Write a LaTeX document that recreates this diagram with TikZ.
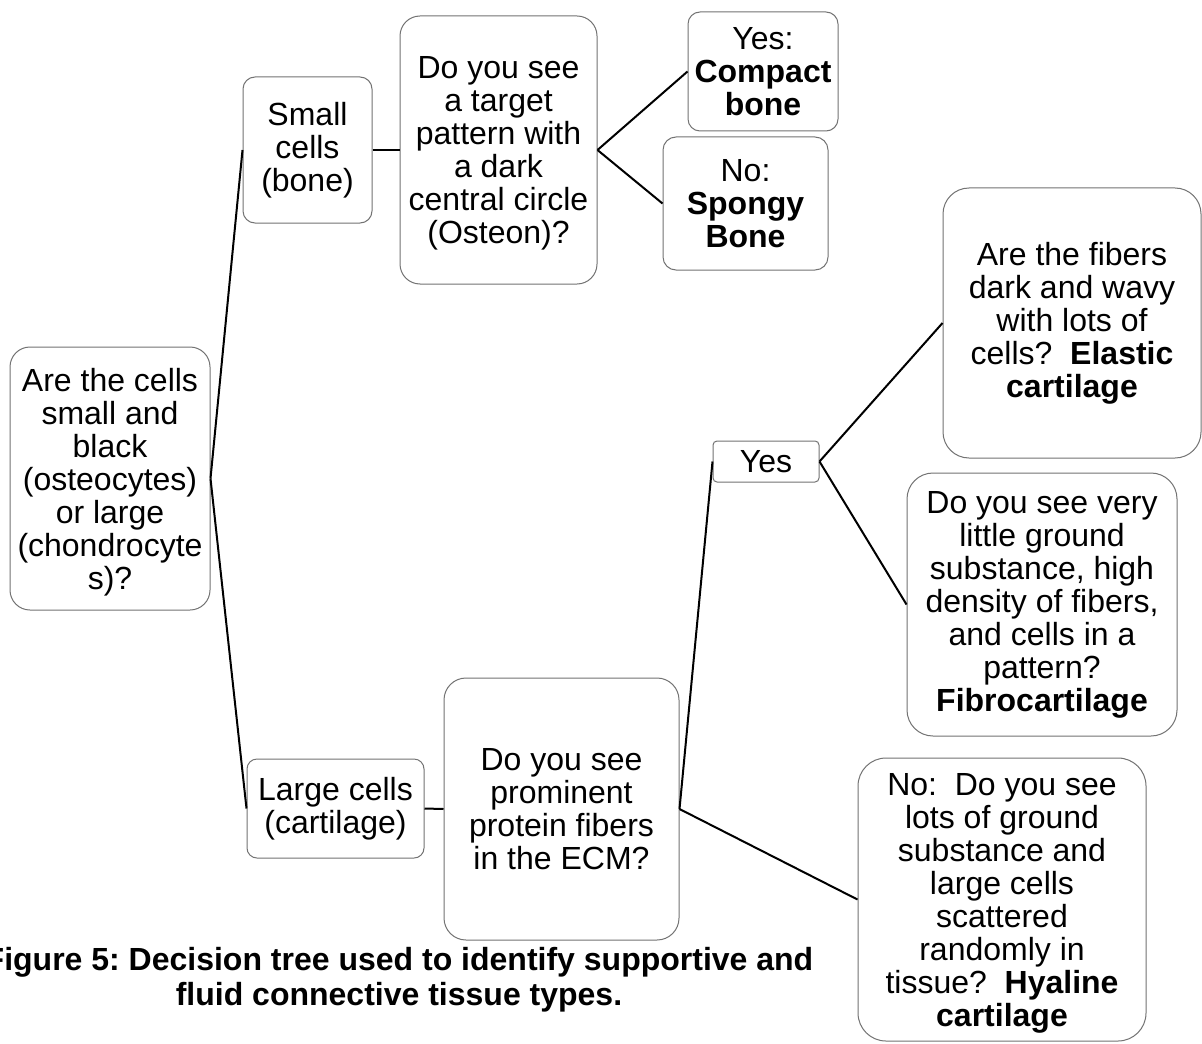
\documentclass[tikz,border=0pt]{standalone}
\usepackage{fontspec}
\setmainfont{Liberation Sans}
\frenchspacing

\tikzset{
	card/.style={draw=black!55, line width=0.5pt, align=center, inner sep=0pt, font=\fontsize{16}{16.5}\selectfont},
	sink/.style={text depth=#1},
	twig/.style={line width=1pt, color=black},
}

\begin{document}
\begin{tikzpicture}[x=0.5pt, y=-0.5pt]
			%%%%% START %%%%%
			
			\useasboundingbox[fill=white] (0, 0) rectangle (1202, 1043);
			
			\node[card, sink=0pt, minimum width=100pt, minimum height=131.5pt, rounded corners=10pt] (cells) at (110, 478.5) {Are the cells\\small and\\black\\(osteocytes)\\or large\\(chondrocyte\\s)?};
			
			\node[card, minimum width=64.5pt, minimum height=73pt, rounded corners=6pt] (small) at (307.5, 150) {Small\\cells\\(bone)};
			\node[card, sink=-1.6pt, minimum width=98.5pt, minimum height=134pt, rounded corners=10pt] (osteon) at (498.5, 150) {Do you see\\a target\\pattern with\\a dark\\central circle\\(Osteon)?};
			\node[card, minimum width=75pt, minimum height=59.5pt, rounded corners=6pt] (compact) at (763, 71.5) {Yes:\\\textbf{Compact}\\\textbf{bone}};
			\node[card, minimum width=82.5pt, minimum height=66.5pt, rounded corners=6.5pt] (spongy) at (745.5, 203.5) {No:\\\textbf{Spongy}\\\textbf{Bone}};
			
			\node[card, minimum width=88.5pt, minimum height=49.5pt, rounded corners=5pt] (large) at (335.5, 808.5) {Large cells\\(cartilage)};
			\node[card, minimum width=117.5pt, minimum height=131pt, rounded corners=11pt] (ecm) at (561.5, 809) {Do you see\\prominent\\protein fibers\\in the ECM?};
			\node[card, minimum width=53pt, minimum height=20.5pt, rounded corners=2pt] (yes) at (766, 461.5) {Yes};
			
			\node[card, minimum width=129pt, minimum height=135pt, rounded corners=13pt] (elastic) at (1072, 323) {Are the fibers\\dark and wavy\\with lots of\\cells?~~\textbf{Elastic}\\\textbf{cartilage}};
			\node[card, minimum width=135pt, minimum height=131.5pt, rounded corners=13pt] (fibro) at (1042, 604.5) {Do you see very\\little ground\\substance, high\\density of fibers,\\and cells in a\\pattern?\\\textbf{Fibrocartilage}};
			\node[card, sink=-4.6pt, minimum width=144pt, minimum height=141.5pt, rounded corners=14pt] (hyaline) at (1002, 899.5) {No:~~Do you see\\lots of ground\\substance and\\large cells\\scattered\\randomly in\\tissue?~~\textbf{Hyaline}\\\textbf{cartilage}};
			
			\draw[twig] (cells.east) -- (small.west);
			\draw[twig] (cells.east) -- (large.west);
			\draw[twig] (small.east) -- (osteon.west);
			\draw[twig] (osteon.east) -- (compact.west);
			\draw[twig] (osteon.east) -- (spongy.west);
			\draw[twig] (large.east) -- (ecm.west);
			\draw[twig] (ecm.east) -- (yes.west);
			\draw[twig] (ecm.east) -- (hyaline.west);
			\draw[twig] (yes.east) -- (elastic.west);
			\draw[twig] (yes.east) -- (fibro.west);
			
			\node[align=center, font=\bfseries\fontsize{16}{17.5}\selectfont] (caption) at (399, 979.5) {Figure 5: Decision tree used to identify supportive and\\fluid connective tissue types.};
			
			%%%%% END %%%%%
\end{tikzpicture}
\end{document}
